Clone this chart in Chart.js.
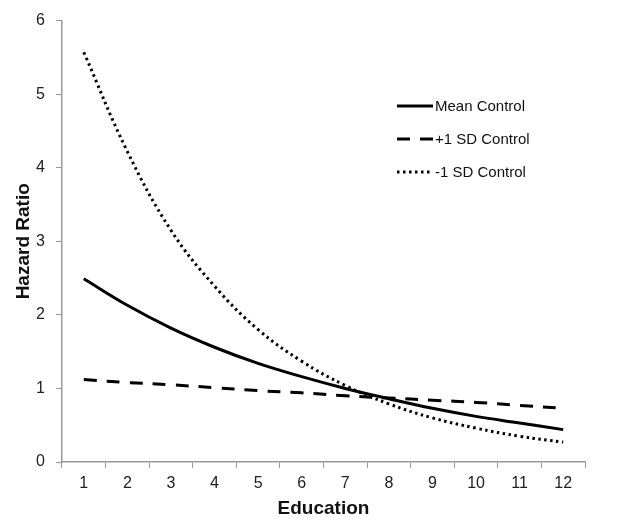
<!DOCTYPE html>
<html>
<head>
<meta charset="utf-8">
<script src="https://cdn.jsdelivr.net/npm/chart.js@4"></script>
<style>
  html, body { margin: 0; padding: 0; background: #fff; }
  #wrap { width: 639px; height: 520px; }
</style>
</head>
<body>
<div id="wrap"><canvas id="chartHazard"></canvas></div>
<script>
const categories = ['1', '2', '3', '4', '5', '6', '7', '8', '9', '10', '11', '12'];
const meanControl = [2.49, 2.13, 1.82, 1.56, 1.34, 1.16, 1.00, 0.86, 0.73, 0.62, 0.53, 0.44];
const plusSdControl = [1.12, 1.08, 1.05, 1.01, 0.97, 0.94, 0.90, 0.87, 0.84, 0.81, 0.77, 0.73];
const minusSdControl = [5.57, 4.22, 3.15, 2.39, 1.80, 1.37, 1.04, 0.79, 0.60, 0.46, 0.35, 0.27];
const yTicks = [0, 1, 2, 3, 4, 5, 6];

// leyenda dibujada a mano dentro del area del grafico
const insideLegend = {
    id: 'insideLegend',
    afterDraw(chart) {
        const ctx = chart.ctx;
        const x0 = 397, x1 = 433, yStart = 106, step = 33;
        ctx.save();
        ctx.font = '15px "Liberation Sans", Arial, sans-serif';
        ctx.fillStyle = '#111';
        ctx.textBaseline = 'middle';
        chart.data.datasets.forEach(function (ds, i) {
            const y = yStart + i * step;
            ctx.beginPath();
            ctx.strokeStyle = ds.borderColor;
            ctx.lineWidth = ds.borderWidth;
            ctx.setLineDash(ds.borderDash || []);
            ctx.moveTo(x0, y);
            ctx.lineTo(x1, y);
            ctx.stroke();
            ctx.setLineDash([]);
            ctx.fillText(ds.label, x1 + 2, y + 1);
        });
        ctx.restore();
    }
};

const ctx = document.getElementById('chartHazard').getContext('2d');
const chart = new Chart(ctx, {
    type: 'line',
    data: {
        labels: categories,
        datasets: [{
            label: 'Mean Control',
            data: meanControl,
            borderColor: '#000',
            borderWidth: 3,
            tension: 0.4
        }, {
            label: '+1 SD Control',
            data: plusSdControl,
            borderColor: '#000',
            borderWidth: 3,
            borderDash: [13, 10],
            tension: 0.4
        }, {
            label: '-1 SD Control',
            data: minusSdControl,
            borderColor: '#000',
            borderWidth: 3,
            borderDash: [2.5, 3.5],
            tension: 0.4
        }]
    },
    options: {
        responsive: true,
        maintainAspectRatio: false,
        animation: false,
        elements: { point: { radius: 0 } },
        layout: { padding: { top: 20, right: 54, left: 0, bottom: 0 } },
        plugins: {
            legend: { display: false },
            tooltip: { enabled: false }
        },
        scales: {
            x: {
                offset: true,
                grid: {
                    display: true,
                    drawOnChartArea: false,
                    offset: true,
                    tickLength: 6,
                    color: '#999'
                },
                border: { color: '#999', width: 1.5 },
                ticks: {
                    color: '#222',
                    padding: 6,
                    font: { family: '"Liberation Sans", Arial', size: 16 }
                },
                title: {
                    display: true,
                    text: 'Education',
                    color: '#111',
                    padding: { top: 1, bottom: 0 },
                    font: { family: '"Liberation Sans", Arial', size: 19, weight: 'bold' }
                },
                afterFit(scale) { scale.height = 58; }
            },
            y: {
                min: 0,
                max: 6,
                afterBuildTicks(scale) { scale.ticks = yTicks.map(v => ({ value: v })); },
                grid: {
                    display: true,
                    drawOnChartArea: false,
                    tickLength: 6,
                    color: '#999'
                },
                border: { color: '#999', width: 1.5 },
                ticks: {
                    color: '#222',
                    padding: 11,
                    font: { family: '"Liberation Sans", Arial', size: 16 }
                },
                title: {
                    display: true,
                    text: 'Hazard Ratio',
                    color: '#111',
                    padding: { top: 12, bottom: 0 },
                    font: { family: '"Liberation Sans", Arial', size: 19, weight: 'bold' }
                },
                afterFit(scale) { scale.width = 62; }
            }
        }
    },
    plugins: [insideLegend]
});
</script>
</body>
</html>
